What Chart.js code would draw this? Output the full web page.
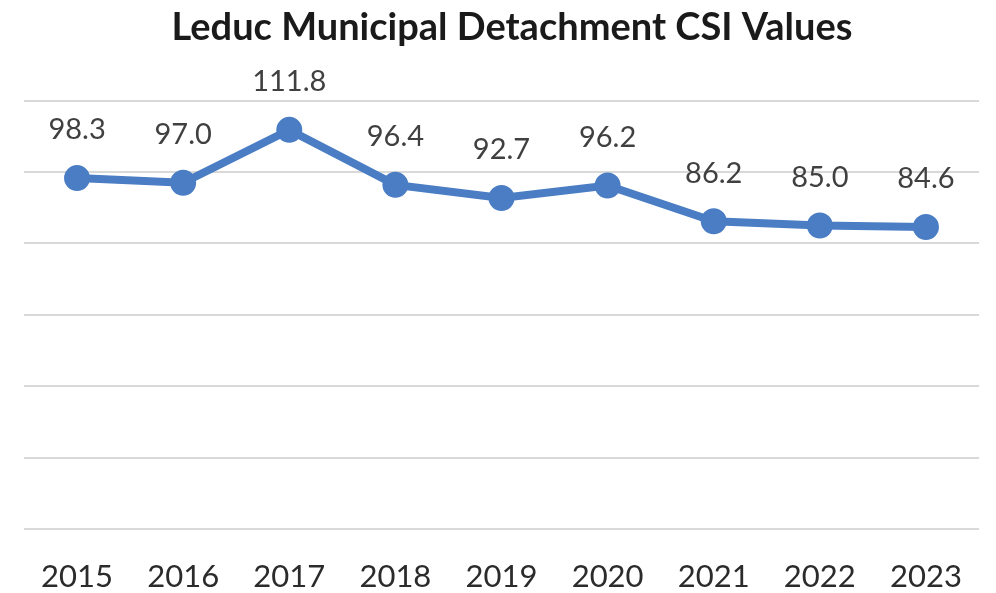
<!DOCTYPE html>
<html>
<head>
<meta charset="utf-8">
<script src="https://cdn.jsdelivr.net/npm/chart.js@4"></script>
<style>
  html, body { margin: 0; padding: 0; background: #fff; overflow: hidden; }
  #wrap { width: 996px; height: 593px; }
</style>
</head>
<body>
<div id="wrap"><canvas id="csiChart"></canvas></div>
<script>
var years = ["2015", "2016", "2017", "2018", "2019", "2020", "2021", "2022", "2023"];
var csiValues = [98.3, 97.0, 111.8, 96.4, 92.7, 96.2, 86.2, 85.0, 84.6];
var yTicks = [0, 20, 40, 60, 80, 100, 120];

// draws value labels above each point
var valueLabels = {
    id: 'valueLabels',
    afterDatasetsDraw: function (chart) {
        var ctx = chart.ctx;
        var meta = chart.getDatasetMeta(0);
        ctx.save();
        ctx.font = '29px Lato, sans-serif';
        ctx.fillStyle = '#404040';
        ctx.textAlign = 'center';
        ctx.textBaseline = 'middle';
        meta.data.forEach(function (pt, i) {
            ctx.fillText(csiValues[i].toFixed(1), pt.x, pt.y - 48);
        });
        ctx.restore();
    }
};

document.addEventListener("DOMContentLoaded", function () {
    var ctx = document.getElementById('csiChart').getContext('2d');
    new Chart(ctx, {
        type: 'line',
        data: {
            labels: years,
            datasets: [{
                label: 'CSI',
                data: csiValues,
                borderColor: '#4a7dc4',
                backgroundColor: '#4a7dc4',
                borderWidth: 8,
                pointRadius: 9,
                pointHoverRadius: 9,
                tension: 0
            }]
        },
        options: {
            responsive: true,
            maintainAspectRatio: false,
            animation: false,
            layout: { padding: { left: 24, right: -4, top: 0, bottom: 0 } },
            plugins: {
                legend: { display: false },
                tooltip: { enabled: false },
                title: {
                    display: true,
                    text: 'Leduc Municipal Detachment CSI Values',
                    color: '#1a1a1a',
                    font: { family: 'Lato, sans-serif', size: 38, weight: 'bold' },
                    padding: { top: 5, bottom: 50 }
                }
            },
            scales: {
                x: {
                    offset: true,
                    grid: { display: false },
                    border: { display: false },
                    ticks: {
                        color: '#2b2b2b',
                        padding: 21,
                        font: { family: 'Lato, sans-serif', size: 31 }
                    },
                    afterFit: function (axis) { axis.height = 64; }
                },
                y: {
                    min: 0,
                    max: 120,
                    afterBuildTicks: function (axis) {
                        axis.ticks = yTicks.map(function (v) { return { value: v }; });
                    },
                    grid: { color: '#d9d9d9', lineWidth: 2, drawTicks: false },
                    border: { display: false },
                    ticks: { display: false }
                }
            }
        },
        plugins: [valueLabels]
    });
});
</script>
</body>
</html>
